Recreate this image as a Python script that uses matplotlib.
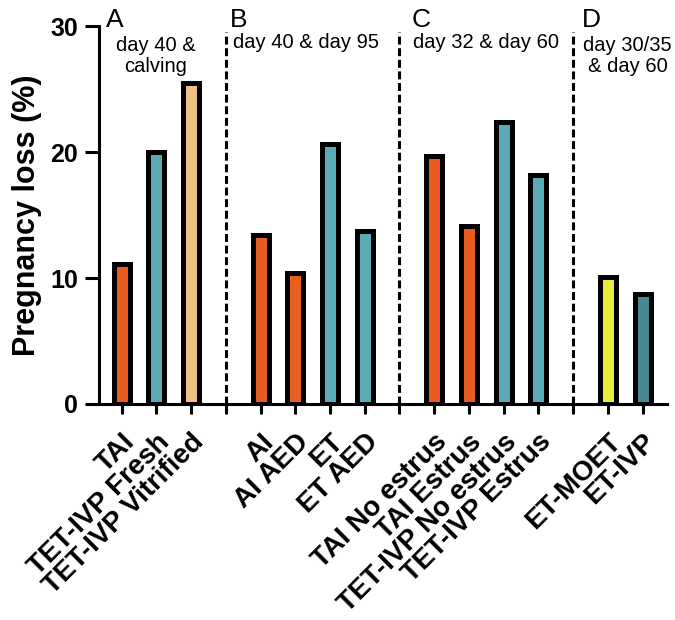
import numpy as np
import matplotlib.pyplot as plt

plt.rcParams.update({
    "font.family": ["Liberation Sans", "DejaVu Sans"],
    "axes.linewidth": 2.2,
})

# ---- data ----
categories = [
    "TAI", "TET-IVP Fresh", "TET-IVP Vitrified",
    "AI", "AI AED", "ET", "ET AED",
    "TAI No estrus", "TAI Estrus", "TET-IVP No estrus", "TET-IVP Estrus",
    "ET-MOET", "ET-IVP",
]
loss_pct = [11.1, 20.0, 25.5,
            13.4, 10.4, 20.6, 13.7,
            19.7, 14.1, 22.4, 18.2,
            10.1, 8.7]
group_sizes = [3, 4, 4, 2]
panel_letters = ["A", "B", "C", "D"]
panel_notes = ["day 40 &\ncalving", "day 40 & day 95", "day 32 & day 60", "day 30/35\n& day 60"]

# colours per bar
ORANGE = "#E85D1E"
TEAL = "#5AAAB6"
TAN = "#EDC286"
YELLOW = "#E8EC3A"
DTEAL = "#468791"
bar_colors = [ORANGE, TEAL, TAN,
              ORANGE, ORANGE, TEAL, TEAL,
              ORANGE, ORANGE, TEAL, TEAL,
              YELLOW, DTEAL]

# positions: one empty slot between groups (dashed separator)
positions, seps, tick_labels = [], [], []
p = 0
for gi, n in enumerate(group_sizes):
    for k in range(n):
        positions.append(p)
        p += 1
    if gi < len(group_sizes) - 1:
        seps.append(p)
        p += 1
start = 0
for gi, n in enumerate(group_sizes):
    tick_labels += categories[start:start + n]
    start += n
    if gi < len(group_sizes) - 1:
        tick_labels.append("")
all_ticks = sorted(positions + seps)

fig = plt.figure(figsize=(6.75, 6.2), dpi=100)
ax = fig.add_axes([0.1467, 0.3484, 0.8413, 0.6096])

ax.bar(positions, loss_pct, width=0.46, color=bar_colors,
       edgecolor="black", linewidth=3.6, zorder=3)

for s in seps:
    ax.plot([s, s], [0, 29.5], color="black", lw=2.2,
            linestyle=(0, (2.6, 1.2)), zorder=2, clip_on=False)

ax.set_xlim(-0.65, 15.7)
ax.set_ylim(0, 30)
ax.set_yticks([0, 10, 20, 30])
ax.set_xticks(all_ticks)
ax.set_xticklabels(tick_labels, rotation=45, ha="right", va="top",
                   rotation_mode="anchor", fontsize=20, fontweight="bold")
ax.tick_params(axis="y", length=10, width=2.2, labelsize=18, pad=5)
ax.tick_params(axis="x", length=7, width=2.2, pad=11)
for lab in ax.get_yticklabels():
    lab.set_fontweight("bold")
ax.spines["top"].set_visible(False)
ax.spines["right"].set_visible(False)
ax.set_ylabel("Pregnancy loss (%)", fontsize=22, fontweight="bold", labelpad=6)

# panel letters and day notes
letter_x = [-0.45, 3.12, 8.35, 13.24]
for lx, letter in zip(letter_x, panel_letters):
    ax.text(lx, 29.93, letter, fontsize=19, ha="left", va="baseline", clip_on=False)
ax.text(0.99, 26.35, panel_notes[0], fontsize=14.5, ha="center", va="baseline",
        multialignment="center", linespacing=1.15)
ax.text(3.21, 28.25, panel_notes[1], fontsize=14.5, ha="left", va="baseline")
ax.text(8.40, 28.25, panel_notes[2], fontsize=14.5, ha="left", va="baseline")
ax.text(14.57, 26.35, panel_notes[3], fontsize=14.5, ha="center", va="baseline",
        multialignment="center", linespacing=1.15)

fig.savefig("out.png", dpi=100)
